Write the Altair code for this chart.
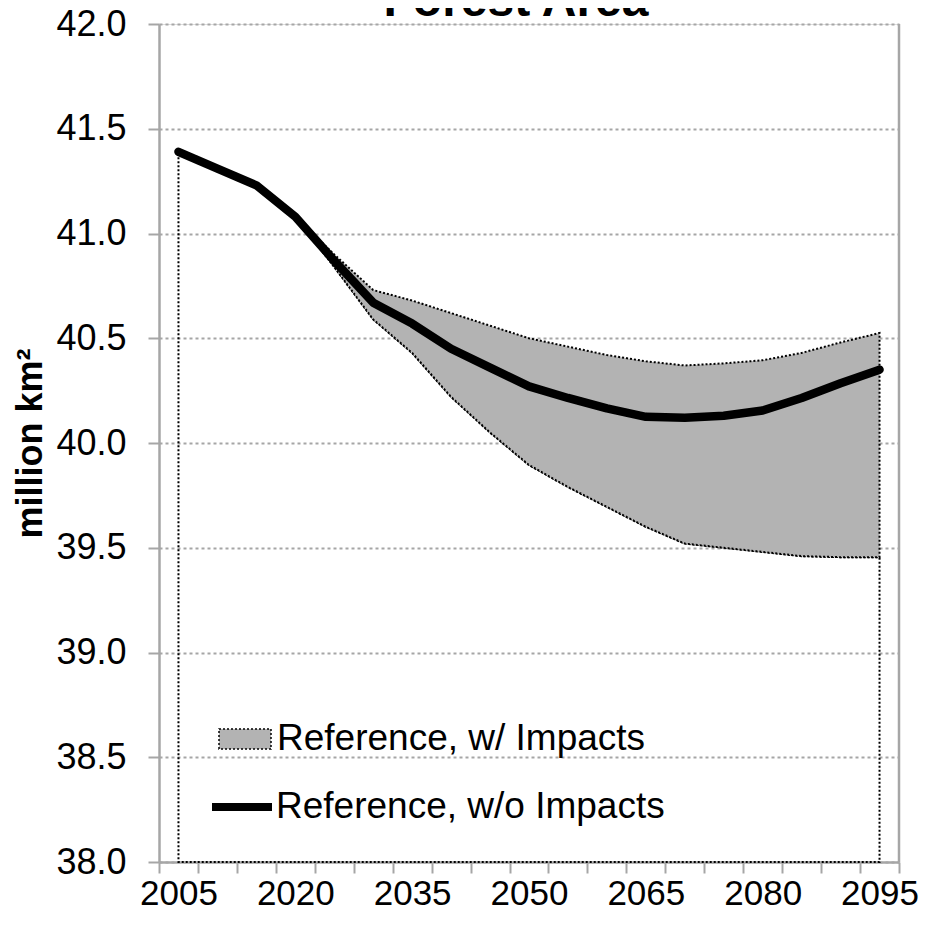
import altair as alt
import pandas as pd

years = [2005, 2010, 2015, 2020, 2025, 2030, 2035, 2040, 2045, 2050,
         2055, 2060, 2065, 2070, 2075, 2080, 2085, 2090, 2095]
no_impacts = [41.39, 41.31, 41.23, 41.08, 40.87, 40.67, 40.57, 40.45, 40.36, 40.27,
              40.215, 40.165, 40.125, 40.12, 40.13, 40.155, 40.215, 40.285, 40.35]
impacts_high = [41.39, 41.31, 41.23, 41.08, 40.90, 40.73, 40.68, 40.62, 40.56, 40.50,
                40.46, 40.42, 40.39, 40.37, 40.38, 40.395, 40.43, 40.48, 40.525]
impacts_low = [41.39, 41.31, 41.23, 41.08, 40.84, 40.59, 40.43, 40.22, 40.05, 39.895,
               39.79, 39.695, 39.60, 39.52, 39.50, 39.48, 39.46, 39.455, 39.455]
y_ticks = [38.0, 38.5, 39.0, 39.5, 40.0, 40.5, 41.0, 41.5, 42.0]
series_names = ["Reference, w/ Impacts", "Reference, w/o Impacts"]
title_text = "Forest Area"
y_title = "million km²"
y_floor = 38.0

df = pd.DataFrame({
    "year": years,
    "main": no_impacts,
    "high": impacts_high,
    "low": impacts_low,
    "floor": [y_floor] * len(years),
    "s_area": [series_names[0]] * len(years),
    "s_line": [series_names[1]] * len(years),
})

FONT = "Liberation Sans"
GRAY = "#a6a6a6"
W, H = 740, 838

x_enc = alt.X(
    "year:O",
    bandPosition=0.5,
    scale=alt.Scale(type="band", paddingInner=0, paddingOuter=0),
    axis=alt.Axis(
        title=None, labelAngle=0, tickBand="extent",
        labelExpr="(datum.value - 2005) % 15 === 0 ? datum.label : ''",
        labelFontSize=35, labelPadding=3, labelFont=FONT, labelColor="black",
        tickSize=11, tickWidth=2, tickColor=GRAY,
        domainColor=GRAY, domainWidth=2.5, grid=False,
    ),
)
y_scale = alt.Scale(domain=[38, 42], nice=False, zero=False)
y_axis = alt.Axis(
    values=y_ticks, format=".1f", title=y_title,
    titleFont=FONT, titleFontSize=36, titleFontWeight="bold", titleColor="black",
    titleX=-129, titleY=H / 2, titleAngle=-90, titleBaseline="middle", titleAlign="center",
    labelFontSize=36, labelPadding=22, labelFont=FONT, labelColor="black",
    tickSize=11, tickWidth=2, tickColor=GRAY,
    domainColor=GRAY, domainWidth=2.5,
    grid=True, gridColor=GRAY, gridDash=[3, 3], gridWidth=2,
)

base = alt.Chart(df)

lower_outline = base.mark_area(
    fill="white", fillOpacity=0, stroke="black", strokeDash=[2, 2], strokeWidth=2
).encode(
    x=x_enc,
    y=alt.Y("low:Q", scale=y_scale, axis=y_axis),
    y2="floor:Q",
)

band = base.mark_area(
    stroke="black", strokeDash=[2, 2], strokeWidth=2
).encode(
    x=x_enc,
    y=alt.Y("high:Q", scale=y_scale, axis=y_axis),
    y2="low:Q",
    fill=alt.Fill(
        "s_area:N",
        scale=alt.Scale(domain=[series_names[0]], range=["#b3b3b3"]),
        legend=alt.Legend(
            title=None, orient="none", legendX=59, legendY=688, padding=0,
            symbolType="M-1,-0.385H1V0.385H-1Z", symbolSize=2704,
            symbolStrokeColor="black", symbolDash=[2, 2], symbolStrokeWidth=1.5,
            symbolOpacity=1, symbolFillColor="#b3b3b3",
            labelFont=FONT, labelFontSize=37, labelColor="black", labelOffset=5,
            labelLimit=0,
        ),
    ),
)

line = base.mark_line(strokeWidth=8.5, strokeCap="round", strokeJoin="round").encode(
    x=x_enc,
    y=alt.Y("main:Q", scale=y_scale, axis=y_axis),
    stroke=alt.Stroke(
        "s_line:N",
        scale=alt.Scale(domain=[series_names[1]], range=["black"]),
        legend=alt.Legend(
            title=None, orient="none", legendX=49, legendY=749, padding=0,
            symbolType="stroke", symbolSize=3600, symbolStrokeWidth=8,
            labelFont=FONT, labelFontSize=37, labelColor="black", labelOffset=0,
            labelLimit=0,
        ),
    ),
)

right_border = alt.Chart(pd.DataFrame({"k": [0]})).mark_rule(
    color=GRAY, strokeWidth=2.5
).encode(x=alt.value(W), y=alt.value(0), y2=alt.value(H))

title = alt.Chart(pd.DataFrame({"t": [title_text]})).mark_text(
    font=FONT, fontSize=48, fontWeight="bold", align="center", baseline="alphabetic",
    color="black",
).encode(text="t:N", x=alt.value(357), y=alt.value(-8))

chart = alt.layer(lower_outline, band, line, right_border, title).resolve_scale(
    fill="independent", stroke="independent"
).properties(
    width=W, height=H,
    autosize=alt.AutoSizeParams(type="none"),
    padding={"left": 151, "top": 16, "right": 21, "bottom": 50},
).configure_view(stroke=None).configure(background="white")

chart.save("out.html", embed_options={"renderer": "svg", "actions": False})
